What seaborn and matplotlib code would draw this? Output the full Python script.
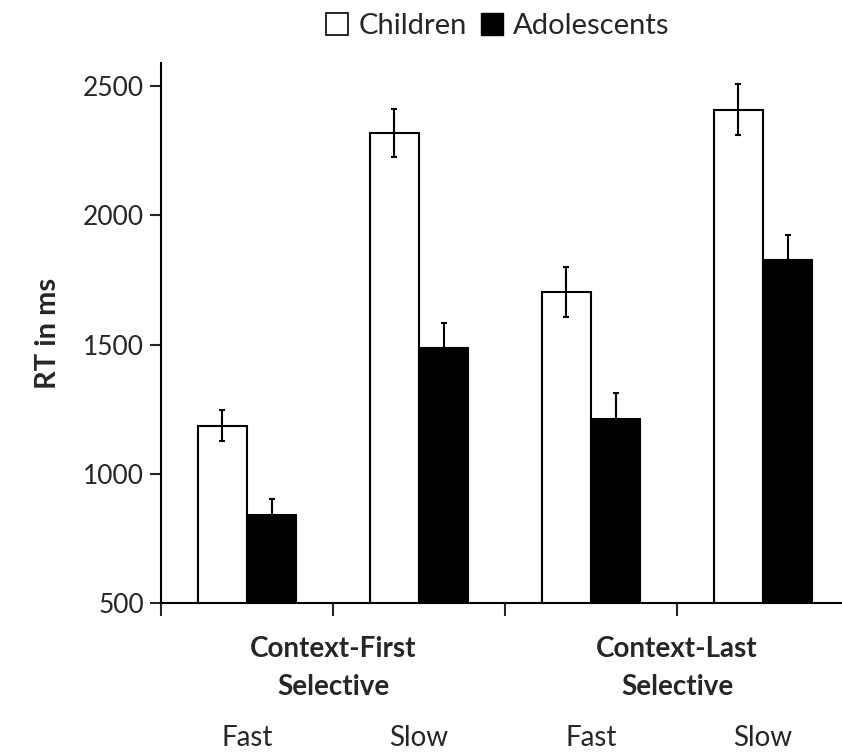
#!/usr/bin/env python
# coding: utf-8

"""
Temps de réaction (RT) par condition et par groupe d'âge
"""

import pandas as pd
import seaborn as sns
import matplotlib.pyplot as plt
import matplotlib.transforms as mtransforms
from matplotlib.patches import Patch

# données
conditions = ["CF Fast", "CF Slow", "CL Fast", "CL Slow"]
speed_labels = ["Fast", "Slow", "Fast", "Slow"]
block_labels = ["Context-First\nSelective", "Context-Last\nSelective"]
groups = ["Children", "Adolescents"]
children_rt = [1186, 2320, 1705, 2410]
adolescents_rt = [842, 1488, 1213, 1826]
children_err = [60, 93, 97, 100]
adolescents_err = [62, 95, 100, 97]

df = pd.DataFrame({
    "cond": conditions * 2,
    "group": [groups[0]] * 4 + [groups[1]] * 4,
    "rt": children_rt + adolescents_rt,
})

sns.set_style("white")
plt.rcParams["font.family"] = ["Lato", "DejaVu Sans"]

fig = plt.figure(figsize=(8.42, 7.54), dpi=100)
ax = fig.add_axes([161 / 842, 151 / 754, 1 - 161 / 842, (603 - 63) / 754])

sns.barplot(data=df, x="cond", y="rt", hue="group", order=conditions,
            hue_order=groups, palette=["white", "black"], edgecolor="black",
            linewidth=1.5, width=0.57, errorbar=None, legend=False, ax=ax)

# barres d'erreur, placées à partir des barres dessinées par seaborn
errs = children_err + adolescents_err
for patch, err in zip(ax.patches, errs):
    xc = patch.get_x() + patch.get_width() / 2
    ax.errorbar(xc, patch.get_height(), yerr=err, fmt="none", ecolor="black",
                elinewidth=1.5, capsize=2.5, capthick=1.5, zorder=5)

ax.set_ylim(500, 2590)
ax.set_xlim(-0.5, 3.5 - 7 / 172)
ax.set_yticks([500, 1000, 1500, 2000, 2500])
ax.tick_params(axis="y", labelsize=19, length=8, width=1.5, direction="out",
               left=True, pad=4)

# ticks majeurs aux frontières, étiquettes Fast/Slow en mineur
ax.set_xticks([-0.5, 0.5, 1.5, 2.5])
ax.set_xticklabels([])
ax.set_xticks(range(4), minor=True)
ax.set_xticklabels(speed_labels, minor=True)
ax.tick_params(axis="x", which="major", length=9, width=1.5, direction="out",
               bottom=True)
ax.tick_params(axis="x", which="minor", length=0, labelsize=20, pad=88)

sns.despine(ax=ax, top=True, right=True)
for side in ["left", "bottom"]:
    ax.spines[side].set_linewidth(1.5)
    ax.spines[side].set_color("black")

trans = mtransforms.blended_transform_factory(ax.transData, ax.transAxes)
for xpos, lab in zip([0.5, 2.5], block_labels):
    ax.text(xpos, -0.062, lab, transform=trans, ha="center", va="top",
            fontsize=20, fontweight="bold", linespacing=1.55)

ax.set_xlabel("")
ax.set_ylabel("RT in ms", fontsize=21, fontweight="bold", labelpad=16)

handles = [Patch(facecolor="white", edgecolor="black", linewidth=1.2),
           Patch(facecolor="black", edgecolor="black")]
fig.legend(handles, groups, loc="center", bbox_to_anchor=(498 / 842, 1 - 26 / 754),
           ncol=2, frameon=False, fontsize=21, handlelength=0.75,
           handleheight=0.75, handletextpad=0.35, columnspacing=0.5)

fig.savefig("out.png", dpi=100)
